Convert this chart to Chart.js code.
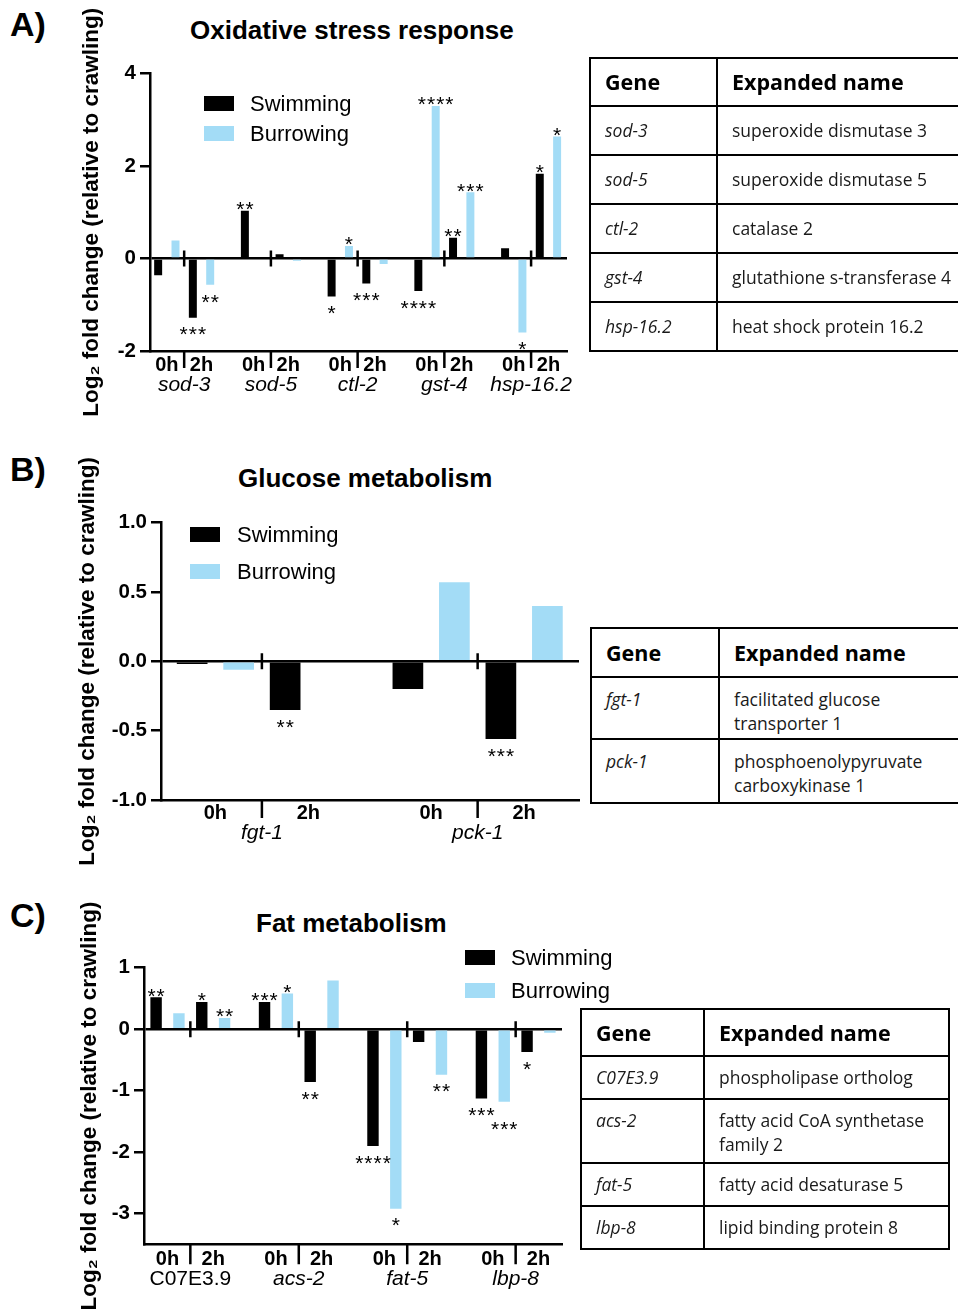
<!DOCTYPE html>
<html>
<head>
<meta charset="utf-8">
<script src="https://cdn.jsdelivr.net/npm/chart.js@4.4.1/dist/chart.umd.min.js"></script>
<style>
  html, body { margin: 0; padding: 0; background: #fff; }
  body { width: 958px; height: 1312px; position: relative; overflow: hidden; font-family: "Liberation Sans", Arial, sans-serif; color: #000; }
  .abs { position: absolute; }
  .letter { font-weight: bold; font-size: 34px; line-height: 1; }
  .title { font-weight: bold; font-size: 26px; line-height: 1; white-space: nowrap; }
  .leg { position: absolute; font-size: 22px; line-height: 1; white-space: nowrap; }
  .swatch { position: absolute; width: 30px; height: 15px; }
  .box { position: absolute; left: 0; }
  table.genes { position: absolute; border-collapse: collapse; table-layout: fixed; font-family: "Open Sans", sans-serif; font-size: 17.5px; color: #1a1a1a; }
  table.genes td, table.genes th { border: 2px solid #000; padding: 0 14px; text-align: left; vertical-align: top; line-height: 24px; white-space: nowrap; overflow: hidden; }
  table.genes th { font-weight: bold; font-size: 21.5px; vertical-align: middle; color: #000; }
  table.genes td.g { font-style: italic; }
  table.a td { padding-top: 11px; }
  table.b td { padding-top: 9px; }
  table.c td { padding-top: 8px; }
</style>
</head>
<body>

<!-- Panel A -->
<div class="abs letter" style="left:10px;top:7px">A)</div>
<div class="abs title" style="left:190px;top:17px">Oxidative stress response</div>
<div class="box" style="top:0;width:590px;height:440px"><canvas id="chartA" width="590" height="440"></canvas></div>
<div class="swatch" style="left:204px;top:96px;background:#000"></div>
<div class="leg" style="left:250px;top:93px">Swimming</div>
<div class="swatch" style="left:204px;top:126px;background:#a3dcf6"></div>
<div class="leg" style="left:250px;top:123px">Burrowing</div>
<table class="genes a" style="left:589px;top:57px;width:430px">
  <colgroup><col style="width:127px"><col style="width:303px"></colgroup>
  <tr style="height:48px"><th>Gene</th><th>Expanded name</th></tr>
  <tr style="height:49px"><td class="g">sod-3</td><td>superoxide dismutase 3</td></tr>
  <tr style="height:49px"><td class="g">sod-5</td><td>superoxide dismutase 5</td></tr>
  <tr style="height:49px"><td class="g">ctl-2</td><td>catalase 2</td></tr>
  <tr style="height:49px"><td class="g">gst-4</td><td>glutathione s-transferase 4</td></tr>
  <tr style="height:49px"><td class="g">hsp-16.2</td><td>heat shock protein 16.2</td></tr>
</table>

<!-- Panel B -->
<div class="abs letter" style="left:10px;top:452px">B)</div>
<div class="abs title" style="left:238px;top:465px">Glucose metabolism</div>
<div class="box" style="top:440px;width:590px;height:440px"><canvas id="chartB" width="590" height="440"></canvas></div>
<div class="swatch" style="left:190px;top:527px;background:#000"></div>
<div class="leg" style="left:237px;top:524px">Swimming</div>
<div class="swatch" style="left:190px;top:564px;background:#a3dcf6"></div>
<div class="leg" style="left:237px;top:561px">Burrowing</div>
<table class="genes b" style="left:590px;top:627px;width:430px">
  <colgroup><col style="width:128px"><col style="width:302px"></colgroup>
  <tr style="height:49px"><th>Gene</th><th>Expanded name</th></tr>
  <tr style="height:62px"><td class="g">fgt-1</td><td>facilitated glucose<br>transporter 1</td></tr>
  <tr style="height:64px"><td class="g">pck-1</td><td>phosphoenolypyruvate<br>carboxykinase 1</td></tr>
</table>

<!-- Panel C -->
<div class="abs letter" style="left:10px;top:898px">C)</div>
<div class="abs title" style="left:256px;top:910px">Fat metabolism</div>
<div class="box" style="top:880px;width:590px;height:432px"><canvas id="chartC" width="590" height="432"></canvas></div>
<div class="swatch" style="left:465px;top:950px;background:#000"></div>
<div class="leg" style="left:511px;top:947px">Swimming</div>
<div class="swatch" style="left:465px;top:983px;background:#a3dcf6"></div>
<div class="leg" style="left:511px;top:980px">Burrowing</div>
<table class="genes c" style="left:580px;top:1008px;width:368px">
  <colgroup><col style="width:123px"><col style="width:245px"></colgroup>
  <tr style="height:47px"><th>Gene</th><th>Expanded name</th></tr>
  <tr style="height:43px"><td class="g">C07E3.9</td><td>phospholipase ortholog</td></tr>
  <tr style="height:64px"><td class="g">acs-2</td><td>fatty acid CoA synthetase<br>family 2</td></tr>
  <tr style="height:43px"><td class="g">fat-5</td><td>fatty acid desaturase 5</td></tr>
  <tr style="height:43px"><td class="g">lbp-8</td><td>lipid binding protein 8</td></tr>
</table>

<script>
// ---- Panel A: oxidative stress ----
const genesA = ['sod-3', 'sod-5', 'ctl-2', 'gst-4', 'hsp-16.2'];
const swim0A = [-0.36, 1.03, -0.82, -0.70, 0.22];
const burrow0A = [0.39, null, 0.27, 3.30, -1.60];
const swim2A = [-1.28, 0.09, -0.54, 0.45, 1.83];
const burrow2A = [-0.57, -0.05, -0.12, 1.43, 2.64];
const swim0StarsA = ['', '**', '*', '****', ''];
const burrow0StarsA = ['', '', '*', '****', '*'];
const swim2StarsA = ['***', '', '***', '**', '*'];
const burrow2StarsA = ['**', '', '', '***', '*'];
const yTicksA = [-2, 0, 2, 4];

// ---- Panel B: glucose ----
const genesB = ['fgt-1', 'pck-1'];
const swim0B = [-0.02, -0.20];
const burrow0B = [-0.06, 0.57];
const swim2B = [-0.35, -0.56];
const burrow2B = [null, 0.40];
const swim0StarsB = ['', ''];
const burrow0StarsB = ['', ''];
const swim2StarsB = ['**', '***'];
const burrow2StarsB = ['', ''];
const yTicksB = [-1.0, -0.5, 0.0, 0.5, 1.0];

// ---- Panel C: fat ----
const genesC = ['C07E3.9', 'acs-2', 'fat-5', 'lbp-8'];
const swim0C = [0.52, 0.44, -1.90, -1.13];
const burrow0C = [0.26, 0.58, -2.92, -1.18];
const swim2C = [0.44, -0.86, -0.21, -0.37];
const burrow2C = [0.18, 0.79, -0.74, -0.06];
const swim0StarsC = ['**', '***', '****', '***'];
const burrow0StarsC = ['', '*', '*', '***'];
const swim2StarsC = ['*', '**', '', '*'];
const burrow2StarsC = ['**', '', '**', ''];
const yTicksC = [-3, -2, -1, 0, 1];

const plainGenes = ['C07E3.9'];
const SWIM = '#000000';
const BURROW = '#a3dcf6';
const FONT = '"Liberation Sans", Arial, sans-serif';

Chart.defaults.font.family = FONT;
Chart.defaults.color = '#000';

// builds bar points: 4 slots per gene (swim 0h, burrow 0h, swim 2h, burrow 2h)
function points(stride, vals0, stars0, vals2, stars2, off) {
    const out = [];
    vals0.forEach((v, g) => { if (v !== null) out.push({ x: g * stride + off, y: v, s: stars0[g] }); });
    vals2.forEach((v, g) => { if (v !== null) out.push({ x: g * stride + off + 2, y: v, s: stars2[g] }); });
    return out;
}

// --- dividers, 0h/2h labels, gene names, significance stars ---
const annotPlugin = {
    id: 'annot',
    afterDraw(chart, args, o) {
        const { ctx, chartArea: area } = chart;
        const x = chart.scales.x, y = chart.scales.y;
        const y0 = y.getPixelForValue(0);
        ctx.save();
        ctx.strokeStyle = '#000';
        ctx.fillStyle = '#000';
        ctx.lineWidth = 2.5;
        o.genes.forEach((gene, g) => {
            const base = g * o.stride;
            const xd = x.getPixelForValue(base + 1.5);
            ctx.beginPath();
            ctx.moveTo(xd, y0 - 8); ctx.lineTo(xd, y0 + 8);
            ctx.moveTo(xd, area.bottom); ctx.lineTo(xd, area.bottom + o.tickDown);
            ctx.stroke();
            ctx.textAlign = 'center';
            ctx.textBaseline = 'middle';
            ctx.font = 'bold 20px ' + FONT;
            ctx.fillText('0h', x.getPixelForValue(base + 0.5), area.bottom + o.hourOffset);
            ctx.fillText('2h', x.getPixelForValue(base + 2.5), area.bottom + o.hourOffset);
            ctx.font = (plainGenes.includes(gene) ? '' : 'italic ') + '21px ' + FONT;
            ctx.fillText(gene, xd, area.bottom + o.geneOffset);
        });
        ctx.font = '21px ' + FONT;
        ctx.textBaseline = 'alphabetic';
        ctx.letterSpacing = '1px';
        const placed = [];
        chart.data.datasets.forEach((ds, d) => {
            chart.getDatasetMeta(d).data.forEach((bar, i) => {
                const pt = ds.data[i];
                if (!pt.s) return;
                const dir = pt.y >= 0 ? -1 : 1;
                let yb = pt.y >= 0 ? bar.y + 5.3 : bar.y + 23.7;
                const w = ctx.measureText(pt.s).width;
                const l = bar.x - w / 2, r = bar.x + w / 2;
                // push a label further out if it would run into one already drawn
                while (placed.some(p => l < p.r && r > p.l && yb - 15 < p.b && yb - 8 > p.t)) yb += dir * 11;
                placed.push({ l, r, t: yb - 15, b: yb - 8 });
                ctx.fillText(pt.s, bar.x + 0.5, yb);
            });
        });
        ctx.restore();
    }
};

function makeChart(id, c) {
    return new Chart(document.getElementById(id), {
        type: 'bar',
        data: {
            datasets: [
                { label: 'Swimming', data: points(c.stride, c.s0, c.s0s, c.s2, c.s2s, 0), backgroundColor: SWIM },
                { label: 'Burrowing', data: points(c.stride, c.b0, c.b0s, c.b2, c.b2s, 1), backgroundColor: BURROW }
            ]
        },
        options: {
            responsive: false,
            animation: false,
            layout: { padding: c.padding },
            datasets: { bar: { grouped: false, categoryPercentage: 1, barPercentage: c.barPct, borderWidth: 0 } },
            plugins: {
                legend: { display: false },
                tooltip: { enabled: false },
                annot: { genes: c.genes, stride: c.stride, tickDown: c.tickDown, hourOffset: c.hourOffset, geneOffset: c.geneOffset }
            },
            scales: {
                x: {
                    type: 'linear',
                    offset: false,
                    bounds: 'data',
                    min: c.xmin,
                    max: c.xmax,
                    grid: { display: false },
                    ticks: { display: false },
                    border: { display: true, color: '#000', width: 2.5 },
                    afterBuildTicks: s => { s.ticks = []; },
                    afterFit: s => { s.height = 0; }
                },
                y: {
                    min: c.ymin,
                    max: c.ymax,
                    afterBuildTicks: s => { s.ticks = c.yTicks.map(v => ({ value: v })); },
                    afterFit: s => { s.width = c.yWidth; },
                    grid: {
                        color: ctx => (ctx.tick && ctx.tick.value === 0) ? '#000' : 'rgba(0,0,0,0)',
                        tickColor: '#000',
                        tickLength: 10,
                        lineWidth: 2.5
                    },
                    border: { display: true, color: '#000', width: 2.5 },
                    ticks: {
                        padding: 4,
                        color: '#000',
                        font: { size: 20.5, weight: 'bold' },
                        callback: v => c.fmt(v)
                    },
                    title: {
                        display: true,
                        text: 'Log₂ fold change (relative to crawling)',
                        color: '#000',
                        font: { size: 22.5, weight: 'bold' },
                        padding: 0
                    }
                }
            }
        },
        plugins: [annotPlugin]
    });
}

makeChart('chartA', {
    genes: genesA, stride: 5,
    s0: swim0A, s0s: swim0StarsA, b0: burrow0A, b0s: burrow0StarsA,
    s2: swim2A, s2s: swim2StarsA, b2: burrow2A, b2s: burrow2StarsA,
    yTicks: yTicksA, ymin: -2, ymax: 4, fmt: v => String(v),
    xmin: -0.47, xmax: 23.57, barPct: 0.46,
    padding: { left: 78.5, right: 23, top: 73.5, bottom: 89 }, yWidth: 71.5,
    tickDown: 17, hourOffset: 14, geneOffset: 34
});

makeChart('chartB', {
    genes: genesB, stride: 4.64,
    s0: swim0B, s0s: swim0StarsB, b0: burrow0B, b0s: burrow0StarsB,
    s2: swim2B, s2s: swim2StarsB, b2: burrow2B, b2s: burrow2StarsB,
    yTicks: yTicksB, ymin: -1, ymax: 1, fmt: v => v.toFixed(1),
    xmin: -0.67, xmax: 8.32, barPct: 0.66,
    padding: { left: 74.5, right: 11, top: 82.7, bottom: 80 }, yWidth: 86.5,
    tickDown: 18, hourOffset: 13, geneOffset: 33
});

makeChart('chartC', {
    genes: genesC, stride: 4.75,
    s0: swim0C, s0s: swim0StarsC, b0: burrow0C, b0s: burrow0StarsC,
    s2: swim2C, s2s: swim2StarsC, b2: burrow2C, b2s: burrow2StarsC,
    yTicks: yTicksC, ymin: -3.5, ymax: 1, fmt: v => String(v),
    xmin: -0.53, xmax: 17.78, barPct: 0.5,
    padding: { left: 76.5, right: 28, top: 87.7, bottom: 67.7 }, yWidth: 67.5,
    tickDown: 20, hourOffset: 15, geneOffset: 35
});
</script>
</body>
</html>
